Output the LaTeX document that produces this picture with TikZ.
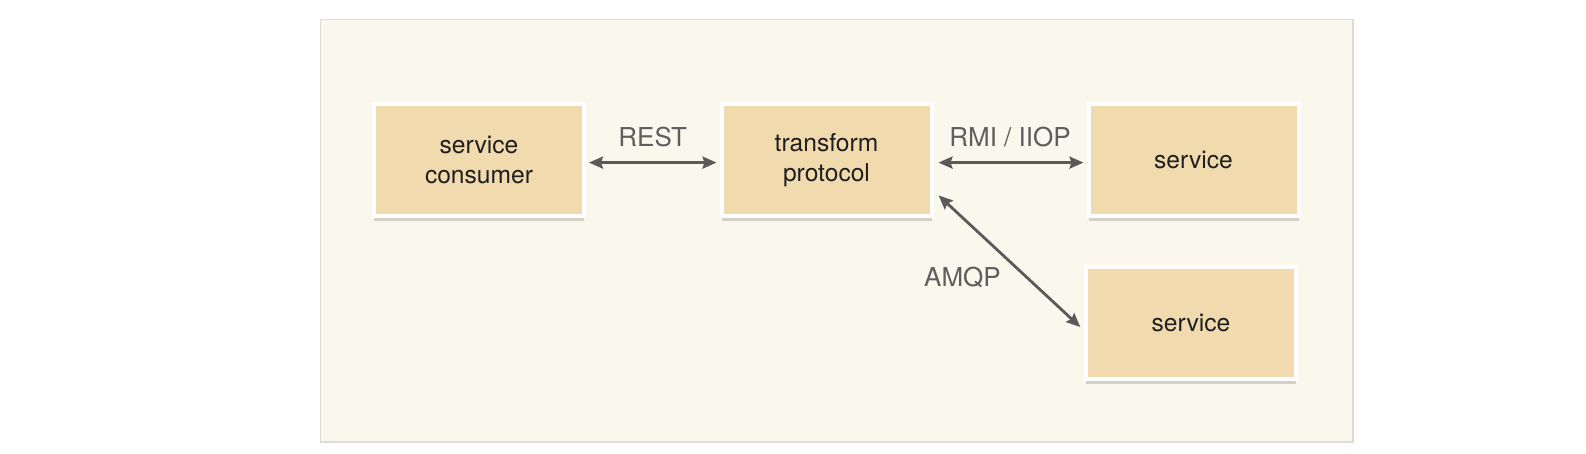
\documentclass[tikz,border=0pt]{standalone}
\usepackage{fontspec}
\setmainfont{TeX Gyre Heros}
\usetikzlibrary{arrows.meta,shadows}

\definecolor{panelbg}{HTML}{FAF7EC}
\definecolor{panelline}{HTML}{DCDBD6}
\definecolor{boxfill}{HTML}{F0DAAE}
\definecolor{linkgrey}{HTML}{5A5A5A}
\definecolor{textgrey}{HTML}{5E5E5E}

\begin{document}
\begin{tikzpicture}[x=0.5pt, y=-0.5pt,
	box/.style={draw=white, line width=2pt, fill=boxfill, minimum width=105pt, minimum height=56pt,
		inner sep=0pt, align=center, font=\fontsize{12.3}{14.7}\selectfont, text=black!88,
		drop shadow={shadow xshift=0pt, shadow yshift=-2.3pt, opacity=0.22, fill=black!70}},
	link/.style={draw=linkgrey, line width=1.4pt,
		{Stealth[length=7pt,width=6pt,inset=1pt]}-{Stealth[length=7pt,width=6pt,inset=1pt]},
		shorten <=1.5pt, shorten >=1.5pt},
	tag/.style={text=textgrey, font=\fontsize{13}{15}\selectfont, text height=9.4pt, text depth=0pt}]

	% Page and panel
	\fill[white] (0,0) rectangle (1586,454);
	\useasboundingbox (0,0) rectangle (1586,454);
	\draw[panelline, line width=0.75pt, fill=panelbg] (320.5,19.5) rectangle (1353,442);

	% Boxes
	\node[box] (consumer) at (479,160) {service\\consumer};
	\node[box] (transform) at (826.5,160) {transform\\protocol};
	\node[box] (svcrmi) at (1193.5,160) {service};
	\node[box] (svcamqp) at (1191,323) {service};

	% Links
	%REST
	\draw[link] ([yshift=-1.3pt]consumer.east) -- node[tag, above=4pt] {REST} ([yshift=-1.3pt]transform.west);
	%RMI / IIOP
	\draw[link, shorten <=2.5pt] ([yshift=-1.3pt]transform.east) -- node[tag, above=4pt] {RMI / IIOP} ([yshift=-1.3pt]svcrmi.west);
	%AMQP
	\draw[link, shorten <=3.5pt, shorten >=2.5pt] (transform.-16) -- node[tag, pos=0.62, left=9pt] {AMQP} (svcamqp.184);

\end{tikzpicture}
\end{document}
